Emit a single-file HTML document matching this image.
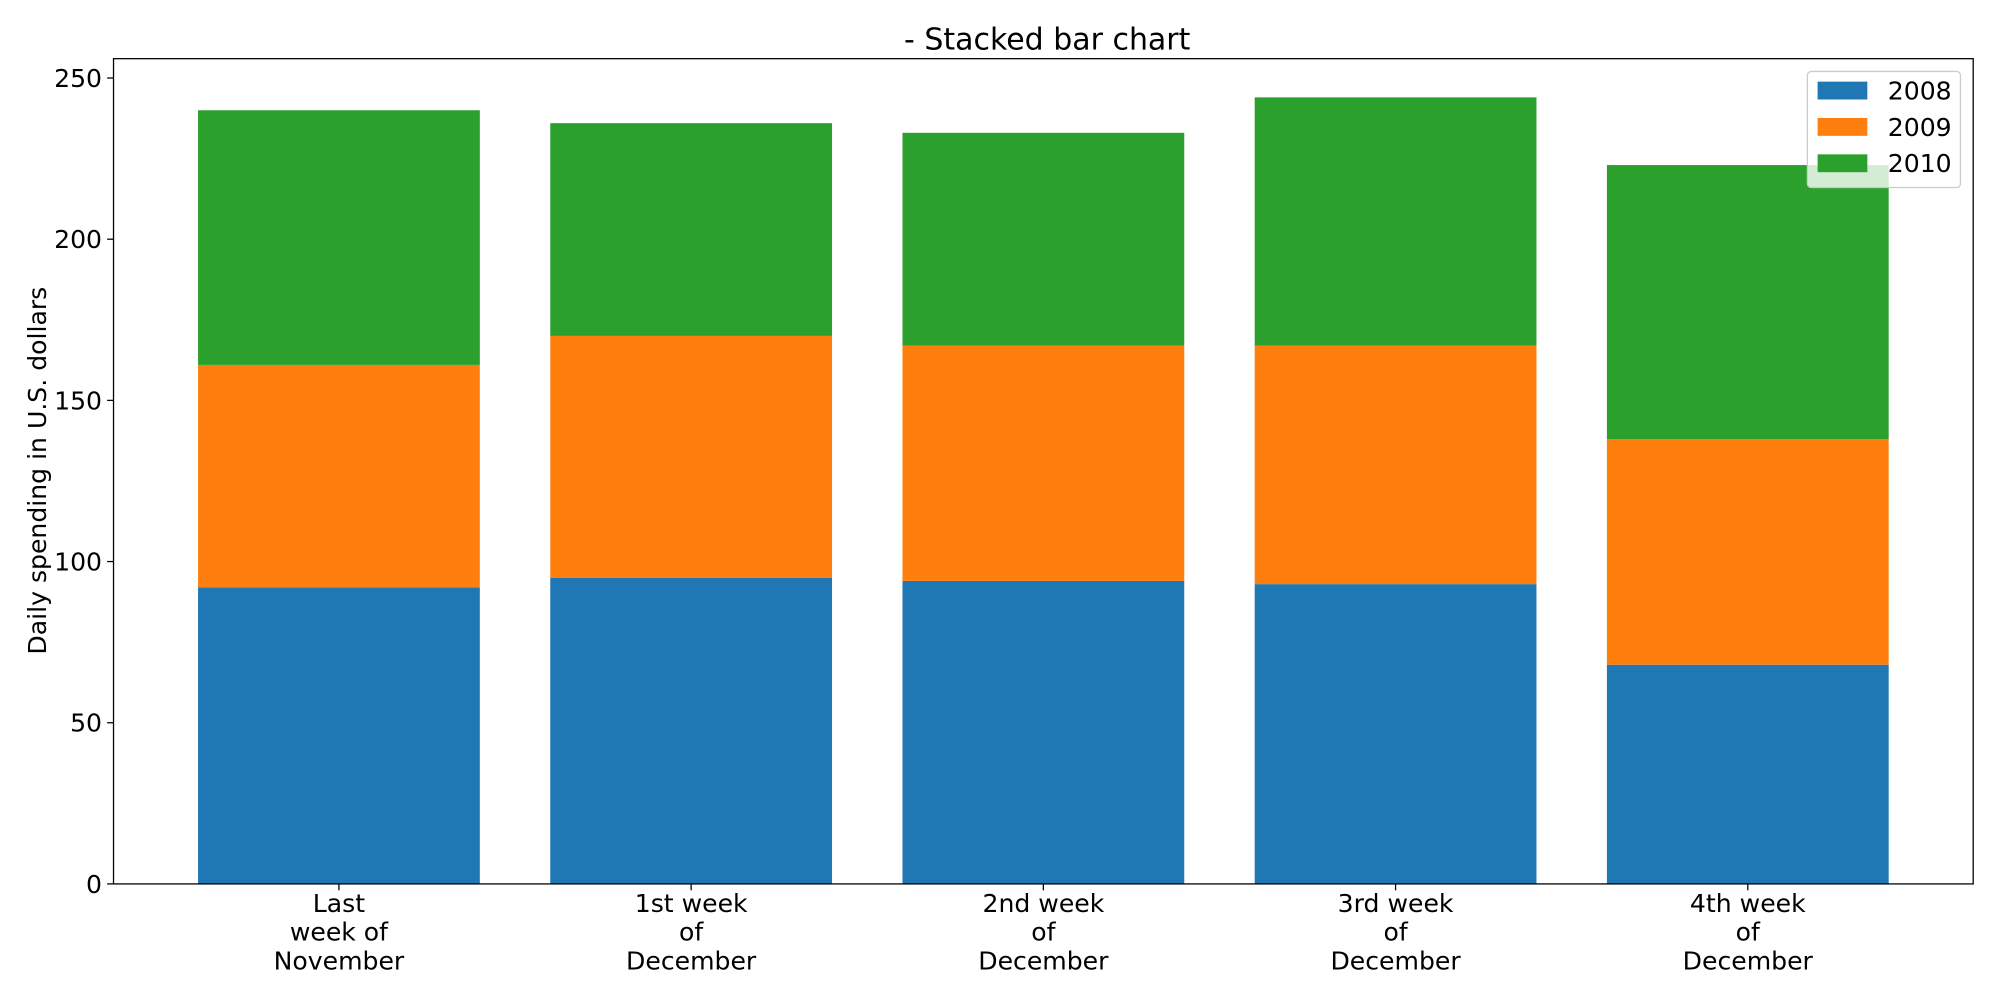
<!DOCTYPE html>
<html><head><meta charset="utf-8"><style>html,body{margin:0;padding:0;background:#fff}svg{display:block}text{font-family:"DejaVu Sans","Liberation Sans",sans-serif;fill:#000}</style></head>
<body>
<svg id="chart" width="2000" height="1000" viewBox="0 0 1568 784">
<rect x="0" y="0" width="1568" height="784" fill="#fff"/>
<g id="bars"></g>
<g id="yaxis"></g>
<g id="xaxis"></g>
<rect x="89" y="46" width="1458" height="647" fill="none" stroke="#000" stroke-width="1"/>
<text x="821" y="39" font-size="23.5" text-anchor="middle">- Stacked bar chart</text>
<text transform="translate(36,369) rotate(-90)" font-size="19.7" text-anchor="middle">Daily spending in U.S. dollars</text>
<g id="legend">
<rect x="1417" y="56" width="120" height="91" rx="3" fill="#fff" fill-opacity="0.8" stroke="#ccc"/>
</g>
</svg>
<script>
const categories = [["Last","week of","November"],["1st week","of","December"],["2nd week","of","December"],["3rd week","of","December"],["4th week","of","December"]];
const seriesNames = ["2008","2009","2010"];
const s2008 = [92, 95, 94, 93, 68];
const s2009 = [69, 75, 73, 74, 70];
const s2010 = [79, 66, 66, 77, 85];
const yTicks = [0, 50, 100, 150, 200, 250];
const colors = ["#1f77b4","#ff7f0e","#2ca02c"];
const NS = "http://www.w3.org/2000/svg";
const L=89,R=1547,T=46,B=693,ymax=256,xmin=-0.64,xmax=4.64;
const xs = v => L + (v - xmin) / (xmax - xmin) * (R - L);
const ys = v => B - v / ymax * (B - T);
function mk(tag, attrs, parent){const e=document.createElementNS(NS,tag);for(const k in attrs)e.setAttribute(k,attrs[k]);parent.appendChild(e);return e;}
const series=[s2008,s2009,s2010];
const bars=document.getElementById('bars');
const bw=0.8;
categories.forEach((c,i)=>{
  let base=0;
  series.forEach((s,j)=>{
    const r=mk('rect',{x:xs(i-bw/2),y:ys(base+s[i]),width:xs(i+bw/2)-xs(i-bw/2),height:ys(base)-ys(base+s[i]),fill:colors[j]},bars);
    
    
    base+=s[i];
  });
});
const ya=document.getElementById('yaxis');
yTicks.forEach(t=>{
  const y=ys(t);
  const l=mk('line',{x1:L-5,x2:L,y1:y,y2:y,stroke:'#000'},ya);
  
  
  const tx=mk('text',{x:L-9,y:y+7,'font-size':19.7,'text-anchor':'end'},ya);
  tx.textContent=t;
  
  
});
const xa=document.getElementById('xaxis');
categories.forEach((c,i)=>{
  const x=xs(i);
  const l=mk('line',{x1:x,x2:x,y1:B,y2:B+5,stroke:'#000'},xa);
  
  
  c.forEach((line,k)=>{
    const tx=mk('text',{x:x,y:B+22+k*22.5,'font-size':19.7,'text-anchor':'middle'},xa);
    tx.textContent=line;
    
    
  });
});
const lg=document.getElementById('legend');
seriesNames.forEach((n,j)=>{
  const y=64+j*28.5;
  const r=mk('rect',{x:1425,y:y,width:39,height:14,fill:colors[j]},lg);
  
  
  const tx=mk('text',{x:1480,y:y+14,'font-size':19.7},lg);
  tx.textContent=n;
  
  
});
</script>
</body></html>
